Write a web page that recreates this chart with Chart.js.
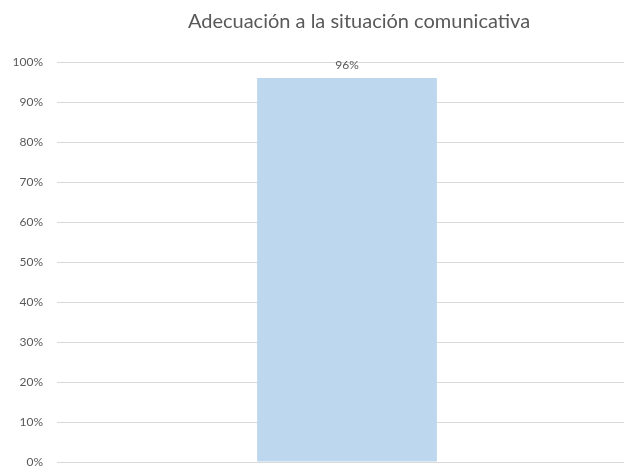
<!DOCTYPE html>
<html>
<head>
<meta charset="utf-8">
<script src="https://cdn.jsdelivr.net/npm/chart.js@4"></script>
<style>
  html, body { margin: 0; padding: 0; background: #fff; overflow: hidden; }
  canvas { display: block; }
</style>
</head>
<body>
<canvas id="myChart" width="640" height="466"></canvas>
<script>
var title = 'Adecuación a la situación comunicativa';
var labels = [''];
var values = [96];
var yTicks = [0, 10, 20, 30, 40, 50, 60, 70, 80, 90, 100];

var font = 'Lato';

// title and value label, drawn like the Excel original
var extras = {
    id: 'extras',
    afterDraw: function (chart) {
        var ctx = chart.ctx;
        ctx.save();
        ctx.fillStyle = '#595959';
        ctx.textAlign = 'center';
        ctx.textBaseline = 'alphabetic';
        ctx.font = '20px ' + font;
        ctx.fillText(title, 359, 28);

        ctx.font = '12px ' + font;
        ctx.textBaseline = 'bottom';
        var meta = chart.getDatasetMeta(0);
        meta.data.forEach(function (bar, i) {
            ctx.fillText(values[i] + '%', bar.x, bar.y - 7);
        });
        ctx.restore();
    }
};

const data = {
    labels: labels,
    datasets: [{
        data: values,
        backgroundColor: '#bdd7ee',
        borderWidth: 0,
        categoryPercentage: 1,
        barPercentage: 0.31
    }]
};

const config = {
    type: 'bar',
    data: data,
    options: {
        responsive: false,
        animation: false,
        layout: {
            padding: { top: 62, bottom: 4, left: 0, right: 3 }
        },
        scales: {
            x: {
                display: false
            },
            y: {
                min: 0,
                max: 100,
                afterFit: function (scale) {
                    scale.width = 57;
                    scale.paddingTop = 0;
                    scale.paddingBottom = 0;
                },
                afterBuildTicks: function (scale) {
                    scale.ticks = yTicks.map(function (v) { return { value: v }; });
                },
                border: { display: false },
                grid: { color: '#d9d9d9', lineWidth: 1, drawTicks: false },
                ticks: {
                    padding: 14,
                    color: '#595959',
                    font: { family: font, size: 12 },
                    callback: function (v) { return v + '%'; }
                }
            }
        },
        plugins: {
            legend: { display: false },
            tooltip: { enabled: false }
        }
    },
    plugins: [extras]
};

const myChart = new Chart(document.getElementById('myChart'), config);
</script>
</body>
</html>
